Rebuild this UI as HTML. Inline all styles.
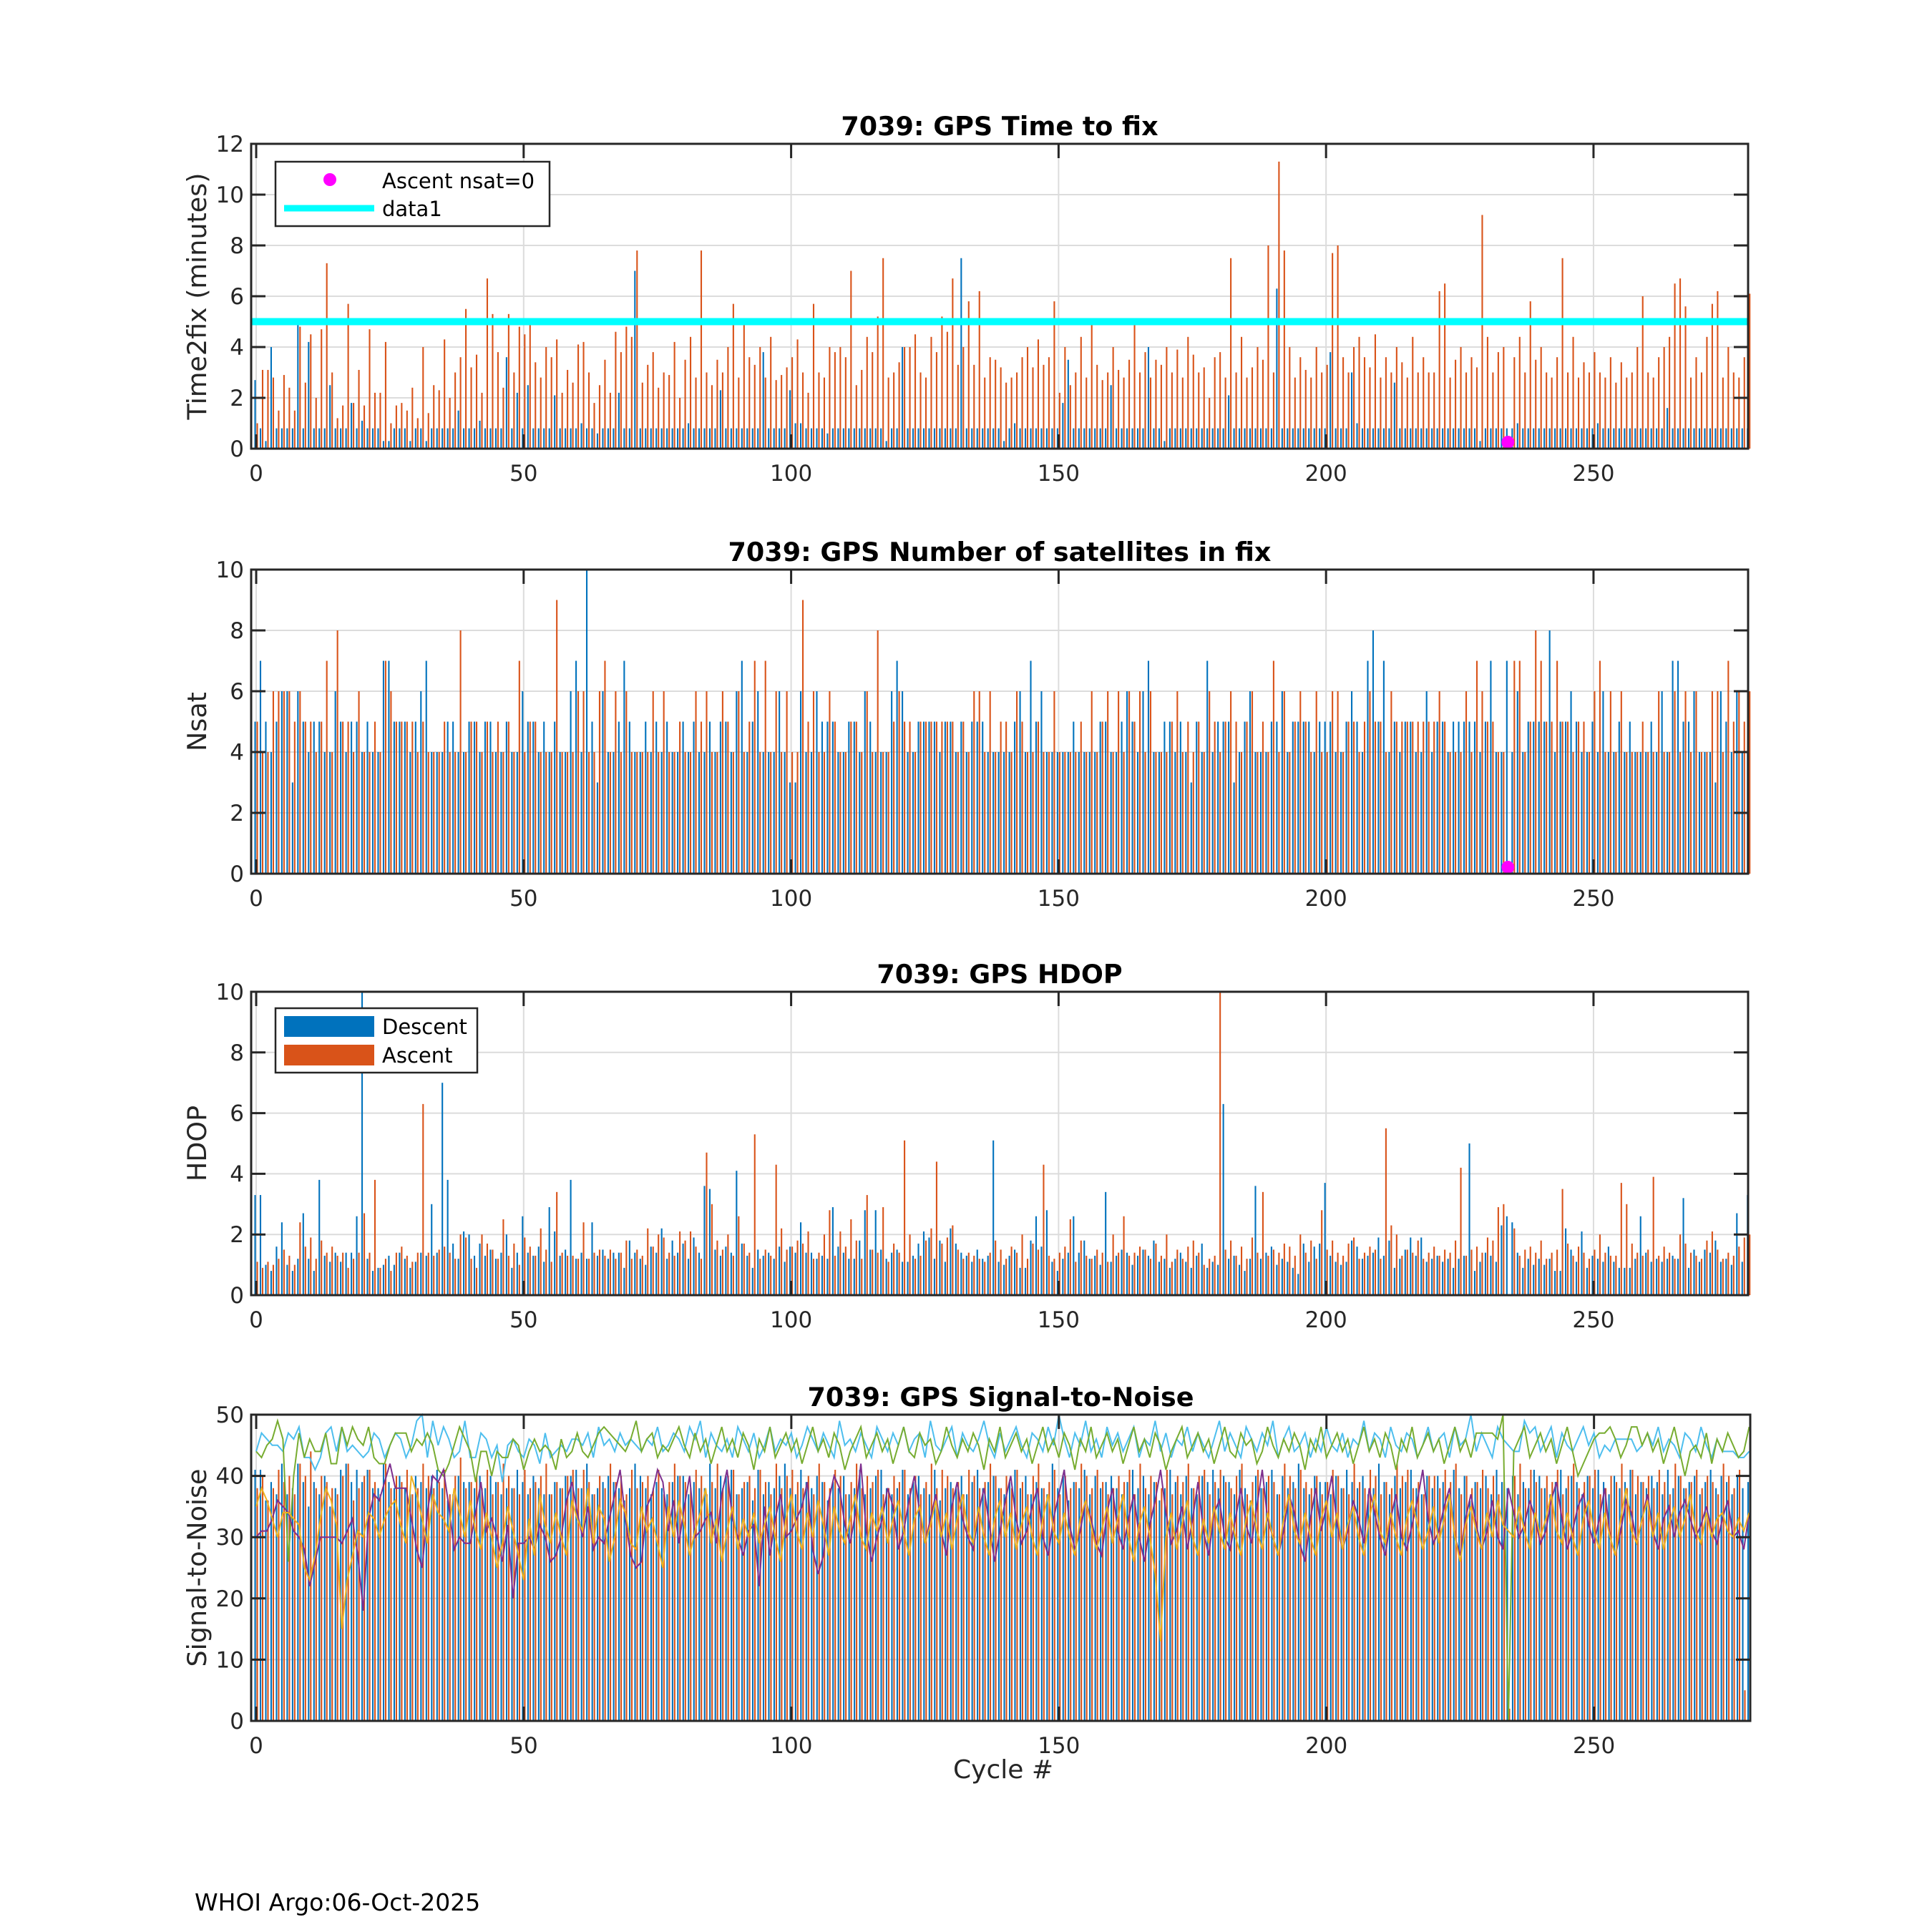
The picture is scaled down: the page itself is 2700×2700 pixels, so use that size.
<!DOCTYPE html>
<html><head><meta charset="utf-8"><title>7039 GPS</title>
<style>
html,body{margin:0;padding:0;background:#fff;}
svg{display:block;font-family:"DejaVu Sans","Liberation Sans",sans-serif;}
</style></head>
<body>
<svg id="fig" width="2700" height="2700" viewBox="0 0 2700 2700" xmlns="http://www.w3.org/2000/svg">
<rect x="0" y="0" width="2700" height="2700" fill="#fff"/>
<text x="272" y="2670" font-size="33" fill="#000">WHOI Argo:06-Oct-2025</text>
</svg>
<script>
const cycles = Array.from({length:280},(v,i)=>i);
const xTicks = [0,50,100,150,200,250];
const t2fTicks = [0,2,4,6,8,10,12];
const nsatTicks = [0,2,4,6,8,10];
const hdopTicks = [0,2,4,6,8,10];
const snrTicks = [0,10,20,30,40,50];
const nsatZeroCycles = [234];
const t2fThreshold = [5];
// time to fix, tenths of minutes
const t2fDesc = [27,8,3,40,8,8,8,8,51,8,42,8,8,8,25,8,8,8,18,8,
11,8,8,8,3,3,8,8,8,3,8,8,3,8,8,8,8,8,15,8,
8,8,11,8,8,8,8,36,8,22,8,25,8,8,8,8,21,8,8,8,
8,10,8,8,6,8,8,8,22,8,8,70,8,8,8,8,8,8,8,8,
8,10,8,8,8,8,8,23,8,8,8,8,8,8,8,38,8,8,8,8,
23,10,10,8,8,8,8,6,8,8,8,8,8,8,8,8,8,8,3,8,
8,40,8,8,8,8,8,8,8,8,8,8,75,8,8,8,8,8,8,8,
3,8,10,8,8,8,8,8,8,8,8,18,35,8,8,8,8,8,8,8,
25,8,8,8,8,8,8,40,8,8,3,8,8,8,8,8,8,8,8,8,
8,8,21,8,8,8,8,8,8,8,8,63,8,8,8,8,8,8,8,8,
8,38,8,8,8,30,10,8,8,8,8,8,8,26,8,8,8,8,8,8,
8,8,8,8,8,8,8,8,8,3,8,8,8,8,8,8,10,8,8,8,
8,8,8,8,8,8,8,8,8,8,8,10,8,8,8,8,8,8,8,8,
8,8,8,8,16,8,8,8,8,8,8,8,8,8,8,8,8,8,8,8];
const t2fAsc = [10,31,31,28,15,29,24,15,48,26,45,20,47,73,30,12,17,57,18,31,
17,47,22,22,42,10,17,18,15,24,12,40,14,25,23,43,20,30,36,55,
32,37,22,67,53,38,24,53,30,48,45,51,34,28,40,36,43,22,31,26,
41,42,30,18,25,35,22,46,38,48,44,78,26,33,38,24,30,29,42,20,
35,44,28,78,30,25,35,30,40,57,28,51,36,33,40,28,44,27,29,32,
36,43,30,22,57,30,28,40,38,40,36,70,25,31,44,38,52,75,28,30,
34,40,40,45,30,28,44,38,52,46,67,33,40,58,33,62,28,36,35,32,
26,28,30,36,40,32,43,33,36,58,22,40,25,30,44,28,50,33,27,30,
40,31,28,35,49,30,38,28,35,33,40,30,39,28,44,37,30,32,20,36,
38,28,75,30,44,28,32,40,35,80,30,113,78,40,28,36,31,28,40,30,
33,77,80,36,30,40,44,36,32,45,28,36,30,40,34,28,44,30,36,30,
30,62,65,28,35,40,30,36,32,92,44,30,38,40,0,36,44,30,58,35,
40,30,28,36,75,30,44,28,34,30,38,30,28,36,26,34,28,30,40,60,
30,28,36,40,44,65,67,56,28,36,30,44,57,62,28,40,30,28,36,61];
const nsatDesc = [5,7,5,4,5,6,6,3,6,5,4,5,5,4,4,6,5,4,5,5,
4,5,4,4,7,7,5,5,5,4,5,6,7,4,4,4,5,5,4,4,
5,5,4,5,5,4,4,5,4,4,6,5,5,4,5,4,5,4,4,6,
7,4,10,5,3,6,4,4,5,7,5,4,4,5,4,5,4,5,4,4,
5,4,5,4,4,5,4,5,5,4,6,7,4,5,6,4,4,4,6,4,
3,3,6,4,4,6,5,5,5,4,4,5,5,4,6,5,4,4,4,6,
7,6,4,4,5,5,5,5,4,5,5,4,5,4,5,5,5,4,4,4,
4,4,5,6,4,7,5,6,4,4,4,4,4,5,4,4,4,4,5,5,
4,4,5,6,5,4,6,7,4,4,5,5,4,5,4,3,5,4,7,4,
5,5,5,3,4,5,6,4,4,4,5,5,6,4,5,5,5,5,4,5,
5,5,4,4,5,6,5,4,7,8,5,7,4,5,4,5,5,4,4,6,
4,5,5,4,5,5,5,5,5,4,5,7,4,4,7,4,6,4,5,5,
5,5,8,4,5,5,6,5,4,4,5,4,6,4,4,5,4,5,4,4,
4,5,4,6,4,7,7,5,5,6,4,4,4,3,6,5,4,6,4,4];
const nsatAsc = [5,4,4,6,6,6,6,5,6,5,5,4,5,7,4,8,5,5,4,6,
4,4,5,4,7,6,5,5,5,5,4,5,4,4,4,5,4,4,8,4,
5,5,4,5,4,5,4,5,4,7,4,5,5,4,4,4,9,4,4,4,
6,6,4,4,6,7,4,6,4,6,4,4,4,4,6,4,6,4,4,5,
4,4,6,5,6,4,4,6,5,4,6,4,5,7,4,7,4,6,4,6,
4,4,9,5,6,4,4,6,5,4,4,5,5,4,6,4,8,4,4,5,
6,5,5,4,5,5,5,5,5,5,5,4,5,4,6,6,4,6,4,5,
5,4,6,5,4,4,5,4,4,6,4,4,4,4,5,4,6,4,5,6,
4,6,4,6,5,6,4,6,4,4,4,5,6,4,5,4,5,4,6,5,
4,5,6,5,4,5,6,4,5,4,7,4,6,4,5,6,5,4,6,4,
4,6,6,4,5,5,4,5,6,5,5,4,6,5,5,5,5,5,5,5,
5,6,5,4,4,4,6,4,7,6,5,5,4,4,0,7,7,4,5,8,
7,5,5,7,5,5,4,5,5,4,6,7,4,6,4,6,4,4,4,5,
4,4,6,4,4,6,4,6,4,6,4,4,6,6,4,7,5,6,5,6];
// HDOP, tenths
const hdopDesc = [33,33,10,8,16,24,10,8,12,27,12,8,38,13,11,14,11,14,14,26,
100,12,8,9,10,13,10,14,12,9,11,14,13,30,14,70,38,17,12,21,
20,13,17,13,15,12,14,20,9,14,26,14,13,16,11,29,21,13,15,38,
12,14,12,24,13,15,12,14,14,9,18,14,12,10,16,14,22,12,18,14,
17,12,19,14,36,35,15,13,16,14,41,17,13,9,15,13,14,12,16,11,
16,14,24,14,14,12,13,12,29,16,14,12,12,18,28,15,28,15,12,14,
15,11,11,13,17,21,19,12,18,11,22,17,14,13,11,15,12,13,51,11,
10,13,15,9,9,18,26,16,28,11,8,12,14,26,14,18,12,13,10,34,
11,13,15,14,10,13,15,13,18,11,12,9,12,14,11,9,13,17,9,11,
10,63,12,13,10,8,12,36,12,14,16,10,12,11,9,7,17,11,16,17,
37,13,11,10,11,18,16,12,13,14,19,13,18,9,12,15,19,13,19,11,
12,13,11,12,9,12,13,50,8,11,14,13,11,23,26,24,14,9,12,10,
12,10,12,8,8,22,15,11,21,9,13,12,11,16,11,9,9,9,12,26,
14,11,12,11,12,13,12,32,9,15,11,15,14,18,11,12,10,27,11,33];
const hdopAsc = [11,9,11,10,12,15,13,10,24,16,19,12,18,14,16,13,14,9,12,14,
27,14,38,9,12,8,14,16,13,11,14,63,14,13,15,16,14,12,20,19,
12,9,20,17,15,12,25,13,17,10,19,16,13,22,15,11,34,14,13,13,
12,24,12,14,15,13,15,12,14,18,12,15,13,22,16,20,19,14,13,21,
18,21,16,12,47,30,18,15,20,13,26,17,14,53,12,15,13,43,22,15,
16,18,17,21,12,14,20,28,13,21,16,25,18,12,33,15,14,29,11,17,
14,51,20,12,13,18,22,44,17,19,23,15,12,14,13,12,11,14,18,15,
12,16,14,20,12,17,15,43,13,12,14,16,25,11,18,13,12,15,14,11,
20,14,26,13,14,16,15,12,17,13,20,11,15,12,16,18,14,10,12,13,
100,15,18,13,16,12,19,14,34,13,15,14,17,16,13,20,14,18,12,28,
15,18,14,13,17,19,12,14,16,15,12,55,23,20,13,15,14,18,12,14,
16,13,15,14,18,42,13,15,16,14,19,18,29,30,0,22,13,15,16,14,
18,12,14,15,35,17,13,16,14,12,15,20,14,13,13,37,30,17,14,13,
15,39,13,16,14,12,20,17,14,13,12,18,21,15,12,14,13,16,19,20];
const snrDesc = [41,41,36,39,37,42,37,38,42,39,35,39,37,40,35,38,41,42,39,41,
39,41,38,38,42,39,38,40,38,37,40,39,38,40,41,38,36,37,40,39,
39,38,40,38,40,39,37,38,38,41,39,37,40,38,37,37,39,38,40,40,
41,38,42,37,38,39,40,39,38,36,38,42,40,38,37,39,38,37,39,40,
40,37,39,38,38,42,38,40,40,41,37,38,39,36,41,37,39,38,40,42,
38,37,41,39,38,40,39,36,39,38,40,37,38,41,37,38,40,41,38,37,
38,41,37,39,40,38,37,41,36,38,39,38,40,37,39,41,38,39,40,38,
37,39,41,38,40,37,39,38,37,42,38,40,36,39,38,41,37,40,38,39,
40,38,37,39,41,38,40,37,39,36,38,41,39,37,40,38,37,40,39,41,
38,40,39,37,41,38,36,40,38,39,41,37,40,38,39,42,38,37,40,39,
39,37,40,38,41,39,38,40,37,38,42,39,37,40,38,39,41,38,37,40,
38,40,39,37,41,38,40,36,39,38,40,37,41,39,38,40,37,39,38,41,
40,38,37,39,41,38,40,39,37,40,38,41,39,37,40,38,39,41,37,39,
38,40,39,37,41,38,40,38,39,40,37,39,41,38,40,39,37,40,38,39];
const snrAsc = [38,40,36,38,41,39,40,37,42,40,44,38,40,39,38,37,40,42,36,38,
40,41,39,37,42,38,40,39,41,37,38,42,40,38,39,41,37,40,43,38,
39,40,38,41,37,39,42,40,38,37,41,38,39,40,42,37,39,38,40,41,
38,41,39,37,40,38,42,39,40,37,41,38,39,40,38,41,37,39,42,40,
39,38,41,40,37,39,42,38,40,41,37,39,40,38,41,39,37,42,38,40,
41,39,38,40,37,42,39,38,41,40,37,39,42,38,40,39,41,37,38,40,
39,41,38,40,37,39,42,38,41,40,38,39,37,41,40,38,39,42,40,38,
40,38,41,39,37,40,42,38,39,41,37,40,38,39,42,40,38,41,39,37,
38,40,39,41,37,42,38,40,39,38,41,37,40,39,42,38,40,41,37,39,
41,39,38,40,42,37,39,41,38,40,39,37,42,40,38,41,39,38,40,37,
39,41,40,38,37,42,39,38,41,40,37,39,38,42,40,41,38,39,37,40,
40,38,41,39,42,37,40,38,39,41,38,40,37,39,2,40,42,38,41,39,
38,40,39,41,37,40,42,38,39,40,41,37,38,40,39,42,38,41,40,39,
40,38,41,39,37,42,40,38,39,41,38,40,39,37,42,40,38,41,5,40];
const snrCyan = [44,47,46,45,45,44,47,46,48,43,43,41,43,47,48,44,48,44,45,44,
43,44,47,46,43,45,47,46,43,45,49,50,43,49,45,48,46,43,44,49,
43,43,47,46,43,45,39,45,46,44,43,46,45,42,47,43,44,45,44,46,
46,45,47,43,48,45,46,44,47,45,46,45,44,46,45,48,44,45,47,46,
44,48,46,49,43,47,45,44,46,43,48,46,44,47,43,45,48,44,46,45,
47,43,45,48,46,44,47,45,43,49,45,46,44,47,45,43,48,46,44,47,
45,48,44,46,47,43,49,45,44,46,48,43,47,45,44,46,49,45,43,47,
44,46,48,45,43,47,46,44,48,45,50,46,43,47,45,49,44,46,43,48,
45,47,44,46,48,43,46,45,49,44,47,43,46,45,48,44,47,45,43,46,
49,44,47,45,43,48,46,44,47,45,49,43,46,48,44,45,47,43,46,44,
48,45,44,47,43,46,45,49,44,47,46,43,48,45,44,47,46,43,45,48,
44,46,47,43,48,45,46,50,44,47,45,43,48,46,45,44,44,49,47,48,
44,46,48,43,47,45,44,46,48,45,47,43,45,44,46,46,46,46,44,45,
47,45,48,44,46,45,43,47,46,44,48,45,43,46,44,44,44,43,43,44];
const snrGreen = [44,43,45,46,49,46,26,40,47,43,46,44,44,47,42,42,48,45,48,46,
45,48,43,42,42,45,47,47,47,44,46,45,47,45,41,40,42,45,48,46,
44,39,44,44,40,44,43,43,46,45,41,44,46,44,45,44,41,46,43,44,
47,44,43,45,47,48,47,46,45,44,46,49,44,46,47,43,45,44,46,48,
45,43,47,44,46,42,45,48,44,46,43,47,45,41,46,44,48,43,45,47,
44,46,42,45,48,44,46,43,47,45,41,44,46,48,43,45,47,44,46,42,
45,48,44,43,47,45,46,42,44,48,45,43,46,44,47,45,41,46,44,48,
43,45,47,44,46,42,45,48,44,46,43,47,45,41,46,44,48,43,45,47,
44,46,42,45,48,44,46,43,47,45,41,44,46,48,43,45,47,44,46,42,
45,48,44,43,47,45,46,42,44,48,45,43,46,44,47,45,41,46,44,48,
43,45,47,44,46,42,45,48,44,46,43,47,45,41,46,44,48,43,45,47,
44,46,42,45,48,44,46,43,47,47,47,47,46,50,0,44,46,48,43,45,
47,44,46,42,45,48,44,40,42,44,46,47,47,48,46,43,45,48,48,45,
47,44,46,42,45,48,44,40,44,45,43,47,42,46,44,47,45,43,44,48];
const snrPurple = [30,31,31,33,36,35,34,31,30,28,22,26,30,30,30,30,29,31,33,27,
18,33,37,36,39,42,38,38,38,33,28,25,34,40,39,41,35,28,30,29,
29,34,39,31,33,30,26,32,20,29,29,30,28,32,30,26,27,30,36,39,
34,30,35,28,30,29,33,37,41,33,27,25,26,35,37,41,39,31,36,29,
35,40,30,31,33,34,29,37,41,33,30,27,31,32,22,35,27,33,37,30,
31,33,35,39,28,24,27,36,40,38,32,29,34,42,31,26,30,33,38,35,
28,31,36,40,34,29,33,37,31,27,35,39,33,30,28,34,38,32,26,31,
36,40,33,29,31,35,38,30,27,33,37,41,32,28,31,36,33,29,27,34,
38,31,28,33,37,30,26,32,36,41,34,29,31,35,28,33,39,31,27,34,
36,30,28,33,38,32,29,35,41,33,30,27,31,37,34,29,26,33,38,31,
35,40,32,28,31,36,33,29,38,34,30,27,33,37,30,28,32,36,41,33,
29,31,35,38,30,27,33,37,32,28,31,36,30,28,38,34,30,32,36,33,
29,31,36,39,33,28,31,35,37,32,29,33,38,30,27,31,36,34,29,33,
37,31,28,33,35,30,34,36,33,30,32,35,31,29,33,36,30,31,28,34];
const snrYellow = [35,38,36,33,30,34,34,33,32,25,23,27,33,38,36,32,15,23,27,31,
30,34,33,30,33,35,36,32,29,40,37,33,29,37,34,33,31,38,34,30,
36,31,28,34,30,25,29,35,31,27,23,33,27,37,32,29,34,30,27,36,
33,31,38,29,35,33,26,30,36,34,29,28,35,31,33,29,25,35,30,36,
32,27,31,34,38,29,33,26,31,35,28,33,30,34,29,32,35,30,26,33,
37,31,28,34,30,36,32,27,35,31,29,33,37,30,28,34,31,35,29,33,
36,31,27,33,35,29,32,36,30,34,28,33,37,31,29,35,30,27,33,36,
30,34,28,32,35,30,27,33,37,31,29,34,30,27,33,36,32,28,31,35,
29,33,37,30,26,32,35,30,24,13,30,34,28,32,36,30,27,33,29,35,
31,28,34,30,27,33,36,31,28,34,30,27,33,37,31,29,34,30,27,33,
36,30,34,28,32,35,30,27,33,37,31,29,34,30,27,33,36,32,28,31,
35,29,33,37,30,26,32,35,31,28,34,30,36,32,31,30,35,31,28,34,
30,33,37,31,29,34,30,27,33,36,31,28,34,30,27,33,38,31,29,33,
36,30,34,28,32,35,30,33,37,31,29,34,30,33,34,31,30,33,31,34];

const NS='http://www.w3.org/2000/svg';
const svg=document.getElementById('fig');
const BLUE='#0072BD', ORANGE='#D95319', AX='#262626', GRID='#dcdcdc';

function mk(tag, attrs, parent){
  const e=document.createElementNS(NS,tag);
  for(const k in attrs) e.setAttribute(k, attrs[k]);
  (parent||svg).appendChild(e);
  return e;
}

function makeAxes(cfg){
  const g=mk('g',{});
  
  
  const L=cfg.left, T=cfg.top, W=cfg.width, H=cfg.height;
  const sx=v=>L+(v-cfg.xmin)/(cfg.xmax-cfg.xmin)*W;
  const sy=v=>T+H-(v-cfg.ymin)/(cfg.ymax-cfg.ymin)*H;
  const grid=mk('g',{},g);
  
  
  xTicks.forEach(t=>{ mk('line',{x1:sx(t),x2:sx(t),y1:T,y2:T+H,stroke:GRID,'stroke-width':2},grid); });
  cfg.yTicks.forEach(t=>{ mk('line',{x1:L,x2:L+W,y1:sy(t),y2:sy(t),stroke:GRID,'stroke-width':2},grid); });
  return {g,sx,sy,L,T,W,H,cfg};
}

function finishAxes(a){
  const {g,sx,sy,L,T,W,H,cfg}=a;
  const fr=mk('g',{},g);
  
  
  mk('rect',{x:L,y:T,width:W,height:H,fill:'none',stroke:AX,'stroke-width':3},fr);
  const tl=10;
  xTicks.forEach(t=>{
    const x=sx(t);
    mk('line',{x1:x,x2:x,y1:T+H,y2:T+H-tl*2,stroke:AX,'stroke-width':3},fr);
    mk('line',{x1:x,x2:x,y1:T,y2:T+tl*2,stroke:AX,'stroke-width':3},fr);
    const lab=mk('text',{x:x,y:T+H+45,'text-anchor':'middle','font-size':31,fill:AX},fr);
    
    
    lab.textContent=t;
  });
  cfg.yTicks.forEach(t=>{
    const y=sy(t);
    mk('line',{x1:L,x2:L+tl*2,y1:y,y2:y,stroke:AX,'stroke-width':3},fr);
    mk('line',{x1:L+W,x2:L+W-tl*2,y1:y,y2:y,stroke:AX,'stroke-width':3},fr);
    const lab=mk('text',{x:L-10,y:y+11,'text-anchor':'end','font-size':31,fill:AX},fr);
    
    
    lab.textContent=t;
  });
  const ti=mk('text',{x:L+W/2,y:T-12,'text-anchor':'middle','font-size':36.5,'font-weight':'bold',fill:'#000'},g);
  
  
  ti.textContent=cfg.title;
  const yl=mk('text',{x:0,y:0,'text-anchor':'middle','font-size':36.5,fill:AX,transform:`translate(${cfg.ylabX},${T+H/2}) rotate(-90)`},g);
  
  
  yl.textContent=cfg.ylabel;
}

function bars(a, desc, asc, scale){
  const {g,sx,sy}=a;
  const bw=0.28, off=0.2;
  const bg=mk('g',{},g);
  
  
  cycles.forEach((c,i)=>{
    const vd=desc[i]*scale, va=asc[i]*scale;
    const x1=sx(c-off-bw/2), x2=sx(c-off+bw/2);
    const r1=mk('rect',{x:x1,y:sy(vd),width:x2-x1,height:Math.max(0,sy(0)-sy(vd)),fill:BLUE},bg);
    
    
    const x3=sx(c+off-bw/2), x4=sx(c+off+bw/2);
    const r2=mk('rect',{x:x3,y:sy(va),width:x4-x3,height:Math.max(0,sy(0)-sy(va)),fill:ORANGE},bg);
    
    
  });
}

function zeroMarkers(a){
  nsatZeroCycles.forEach(c=>{
    const m=mk('circle',{cx:a.sx(c),cy:a.sy(0)-9,r:9,fill:'#FF00FF'},a.g);
    
    
  });
}

const X0={xmin:-0.94,xmax:278.9,left:351,width:2092};
const a1=makeAxes(Object.assign({},X0,{name:'time-to-fix-chart',top:201,height:426,ymin:0,ymax:12,yTicks:t2fTicks,title:'7039: GPS Time to fix',ylabel:'Time2fix (minutes)',ylabX:288}));
bars(a1,t2fDesc,t2fAsc,0.1);
zeroMarkers(a1);
t2fThreshold.forEach(v=>{
  const ln=mk('line',{x1:a1.L,x2:a1.L+a1.W,y1:a1.sy(v),y2:a1.sy(v),stroke:'#00FFFF','stroke-width':10},a1.g);
  
  
});
finishAxes(a1);
(function(){
  const lg=mk('g',{});
  
  
  mk('rect',{x:385,y:226,width:383,height:90,fill:'#fff',stroke:AX,'stroke-width':2.5},lg);
  mk('circle',{cx:461,cy:251,r:9,fill:'#FF00FF'},lg);
  mk('line',{x1:397,x2:523,y1:291,y2:291,stroke:'#00FFFF','stroke-width':9},lg);
  const t1=mk('text',{x:534,y:263,'font-size':29,fill:'#000'},lg);
  
  
  t1.textContent='Ascent nsat=0';
  const t2=mk('text',{x:534,y:302,'font-size':29,fill:'#000'},lg);
  
  
  t2.textContent='data1';
})();
const a2=makeAxes(Object.assign({},X0,{name:'nsat-chart',top:796,height:425,ymin:0,ymax:10,yTicks:nsatTicks,title:'7039: GPS Number of satellites in fix',ylabel:'Nsat',ylabX:288}));
bars(a2,nsatDesc,nsatAsc,1);
zeroMarkers(a2);
finishAxes(a2);
const a3=makeAxes(Object.assign({},X0,{name:'hdop-chart',top:1386,height:424,ymin:0,ymax:10,yTicks:hdopTicks,title:'7039: GPS HDOP',ylabel:'HDOP',ylabX:288}));
bars(a3,hdopDesc,hdopAsc,0.1);
finishAxes(a3);
(function(){
  const lg=mk('g',{});
  
  
  mk('rect',{x:385,y:1409,width:282,height:90,fill:'#fff',stroke:AX,'stroke-width':2.5},lg);
  mk('rect',{x:397,y:1420,width:126,height:29,fill:BLUE},lg);
  mk('rect',{x:397,y:1460,width:126,height:29,fill:ORANGE},lg);
  const t1=mk('text',{x:534,y:1445,'font-size':29,fill:'#000'},lg);
  
  
  t1.textContent='Descent';
  const t2=mk('text',{x:534,y:1485,'font-size':29,fill:'#000'},lg);
  
  
  t2.textContent='Ascent';
})();
const a4=makeAxes({name:'snr-chart',xmin:-0.94,xmax:279.2,left:351,width:2095,top:1977,height:428,ymin:0,ymax:50,yTicks:snrTicks,title:'7039: GPS Signal-to-Noise',ylabel:'Signal-to-Noise',ylabX:288});
bars(a4,snrDesc,snrAsc,1);
[[snrCyan,'#4DBEEE','snr-line-cyan'],[snrGreen,'#77AC30','snr-line-green'],[snrPurple,'#7E2F8E','snr-line-purple'],[snrYellow,'#EDB120','snr-line-yellow']].forEach(([arr,col,nm])=>{
  const pts=cycles.map((c,i)=>a4.sx(c).toFixed(1)+','+a4.sy(arr[i]).toFixed(1)).join(' ');
  const pl=mk('polyline',{points:pts,fill:'none',stroke:col,'stroke-width':2},a4.g);
  
  
});
finishAxes(a4);
const xl=mk('text',{x:1402,y:2485,'text-anchor':'middle','font-size':36,fill:AX});


xl.textContent='Cycle #';
</script>
</body></html>
